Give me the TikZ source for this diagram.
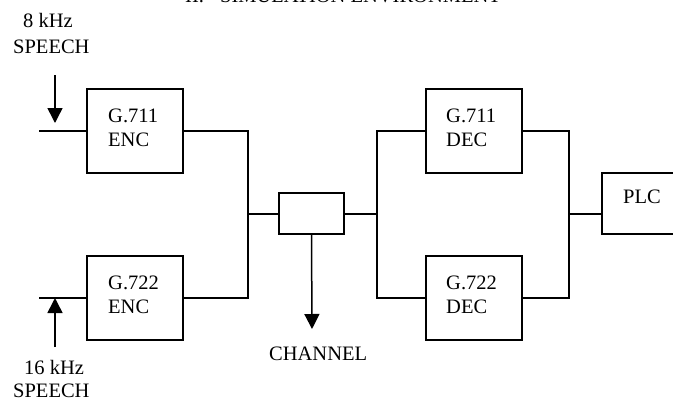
\documentclass[tikz,border=0pt]{standalone}
\usepackage{fontspec}
\setmainfont{Liberation Serif}
\usetikzlibrary{arrows.meta,calc}
\begin{document}
\begin{tikzpicture}[x=1pt,y=-1pt,
  wire/.style={line width=1.5pt},
  blk/.style={draw, line width=1.7pt, inner sep=0pt, outer sep=0pt, minimum width=96pt, minimum height=84pt, anchor=north west},
  txt/.style={font=\fontsize{20.5}{24}\selectfont, inner sep=0pt, anchor=base west},
  arr/.style={wire, -{Triangle[width=15pt,length=15pt]}}]
\useasboundingbox (0,0) rectangle (673,400);
\clip (0,0) rectangle (673,400);

% title (cut off at top, as in the reference)
\node[txt] (tii) at (185,2.5) {II.};
\node[txt] (ttl) at (220,2.5) {SIMULATION ENVIRONMENT};

% blocks
\node[blk] (e1) at (87,89) {};
\node[blk] (e2) at (87,256) {};
\node[blk] (d1) at (426,89) {};
\node[blk] (d2) at (426,256) {};
\node[blk, minimum width=65pt, minimum height=41pt] (ch) at (279,193) {};
\node[blk, minimum width=90pt, minimum height=61pt] (plc) at (602,173) {};

% block texts
\node[txt] (e1a) at ($(e1.north west)+(21,33)$) {G.711};
\node[txt] (e1b) at ($(e1.north west)+(21,57)$) {ENC};
\node[txt] (e2a) at ($(e2.north west)+(21,33)$) {G.722};
\node[txt] (e2b) at ($(e2.north west)+(21,57)$) {ENC};
\node[txt] (d1a) at ($(d1.north west)+(20,33)$) {G.711};
\node[txt] (d1b) at ($(d1.north west)+(20,57)$) {DEC};
\node[txt] (d2a) at ($(d2.north west)+(20,33)$) {G.722};
\node[txt] (d2b) at ($(d2.north west)+(20,57)$) {DEC};
\node[txt] (plct) at ($(plc.north west)+(21,30)$) {PLC};

% outside labels
\node[txt] (l8a) at (23,27) {8 kHz};
\node[txt] (l8b) at (13,53) {SPEECH};
\node[txt] (l16a) at (24,374) {16 kHz};
\node[txt] (l16b) at (13,397) {SPEECH};
\node[txt] (lch) at (269,360) {CHANNEL};

% coordinates
\coordinate (in1) at (39,131);
\coordinate (in2) at (39,298);
\coordinate (a1s) at (55,75);
\coordinate (a1t) at (55,123);
\coordinate (a2s) at (55,347);
\coordinate (a2t) at (55,298);
\coordinate (jl) at (248,214);
\coordinate (jr) at (377,214);
\coordinate (jo) at (569,214);
\coordinate (cht) at (312,329);

% wires
\draw[wire] (in1) -- (e1.west);
\draw[wire] (in2) -- (e2.west);
\draw[arr] (a1s) -- (a1t);
\draw[arr] (a2s) -- (a2t);
\draw[wire] (e1.east) -| (jl);
\draw[wire] (e2.east) -| (jl);
\draw[wire] (jl) -- (jl -| ch.west);
\draw[wire] (jr -| ch.east) -- (jr);
\draw[wire] (jr) |- (d1.west);
\draw[wire] (jr) |- (d2.west);
\draw[wire] (d1.east) -| (jo);
\draw[wire] (d2.east) -| (jo);
\draw[wire] (jo) -- (jo -| plc.west);
\draw[arr] (ch.south) -- (cht);
\end{tikzpicture}
\end{document}
